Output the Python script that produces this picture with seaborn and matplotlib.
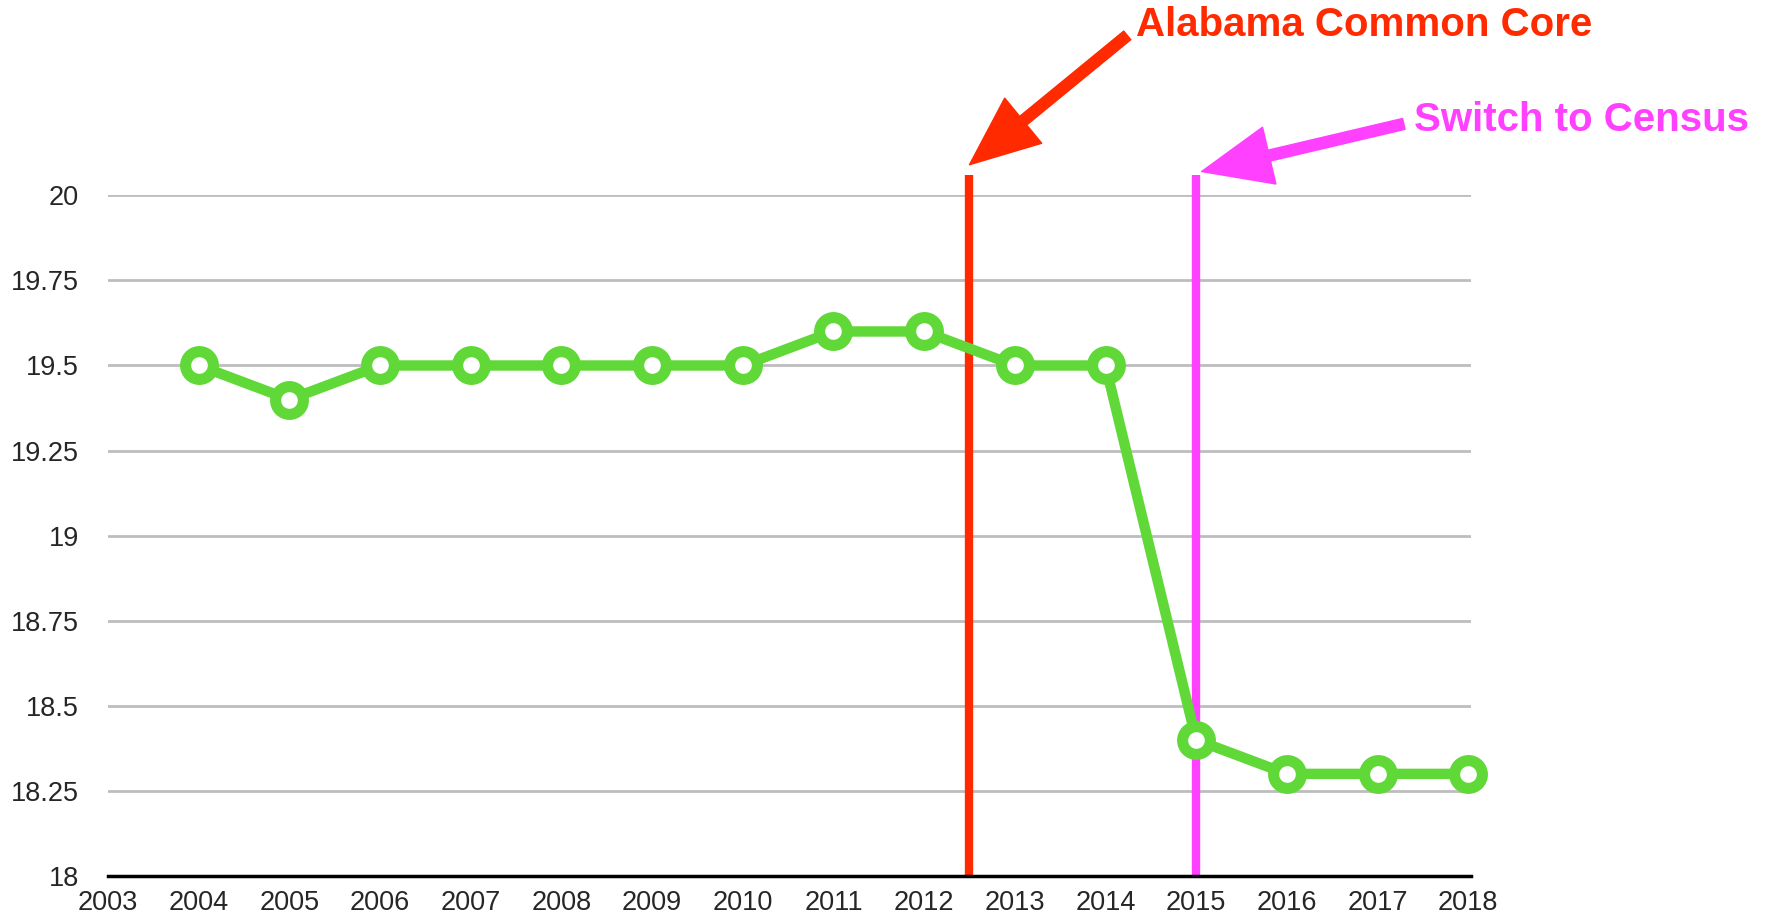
import matplotlib
matplotlib.use("Agg")
import matplotlib.pyplot as plt
import numpy as np
import pandas as pd
import seaborn as sns

# data
years = [2004, 2005, 2006, 2007, 2008, 2009, 2010, 2011, 2012, 2013, 2014, 2015, 2016, 2017, 2018]
scores = [19.5, 19.4, 19.5, 19.5, 19.5, 19.5, 19.5, 19.6, 19.6, 19.5, 19.5, 18.4, 18.3, 18.3, 18.3]
x_ticks = list(range(2003, 2019))
y_ticks = [18, 18.25, 18.5, 18.75, 19, 19.25, 19.5, 19.75, 20]
y_labels = ["18", "18.25", "18.5", "18.75", "19", "19.25", "19.5", "19.75", "20"]

green = "#60D837"
red = "#FF2A00"
magenta = "#FF40FF"

sns.set_style("white")
plt.rcParams["font.family"] = ["Liberation Sans", "DejaVu Sans"]

df = pd.DataFrame({"year": years, "score": scores})

fig = plt.figure(figsize=(17.69, 9.21), dpi=100)
ax = fig.add_axes([0.0611, 0.0489, 0.7704, 0.739])

# grid lines first, under everything
for y in y_ticks[1:]:
    ax.axhline(y, color="#BDBDBD", lw=2, zorder=0)

# event lines
ax.plot([2012.5, 2012.5], [18, 20.06], color=red, lw=6, zorder=2, clip_on=False,
        solid_capstyle="butt")
ax.plot([2015, 2015], [18, 20.06], color=magenta, lw=6, zorder=2, clip_on=False,
        solid_capstyle="butt")

sns.lineplot(data=df, x="year", y="score", ax=ax, color=green, lw=7.5,
             marker="o", markersize=20, markerfacecolor="white",
             markeredgecolor=green, markeredgewidth=8, zorder=3, clip_on=False)

ax.set_xlim(2003, 2018.03)
ax.set_ylim(18, 20)
ax.set_xticks(x_ticks)
ax.set_xticklabels([str(t) for t in x_ticks], fontsize=19.5)
ax.set_yticks(y_ticks)
ax.set_yticklabels(y_labels, fontsize=19.5)
ax.tick_params(axis="y", length=0, pad=21)
ax.tick_params(axis="x", length=0, pad=10)
ax.set_xlabel("")
ax.set_ylabel("")
for s in ["top", "right", "left"]:
    ax.spines[s].set_visible(False)
ax.spines["bottom"].set_color("black")
ax.spines["bottom"].set_linewidth(2.5)
ax.spines["bottom"].set_zorder(4)

# annotations
ax.text(2014.34, 20.50, "Alabama Common Core", color=red, fontsize=29,
        fontweight="bold", ha="left", va="center", clip_on=False)
ax.annotate("", xy=(2012.5, 20.09), xytext=(2014.24, 20.47), annotation_clip=False,
            arrowprops=dict(arrowstyle="simple,head_width=2.1,head_length=2.5,tail_width=0.4",
                            color=red, mutation_scale=20, shrinkA=0, shrinkB=0))
ax.text(2017.40, 20.22, "Switch to Census", color=magenta, fontsize=29,
        fontweight="bold", ha="left", va="center", clip_on=False)
ax.annotate("", xy=(2015.06, 20.07), xytext=(2017.29, 20.21), annotation_clip=False,
            arrowprops=dict(arrowstyle="simple,head_width=2.1,head_length=2.5,tail_width=0.4",
                            color=magenta, mutation_scale=20, shrinkA=0, shrinkB=0))

fig.savefig("out.png", dpi=100)
